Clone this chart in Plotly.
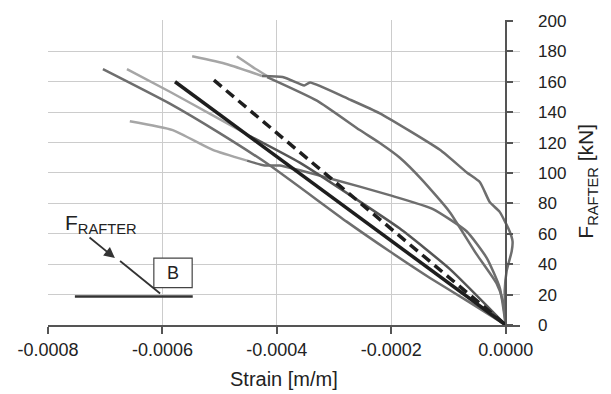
import plotly.graph_objects as go

# ---- data (strain [m/m], force [kN]) ----
x_ticks = [-0.0008, -0.0006, -0.0004, -0.0002, 0.0]
x_ticklabels = ["-0.0008", "-0.0006", "-0.0004", "-0.0002", "0.0000"]
y_ticks = [0, 20, 40, 60, 80, 100, 120, 140, 160, 180, 200]

black_x = [-0.000578, 0.0]
black_y = [160, 0]

dashed_x = [-0.00051, 0.0]
dashed_y = [161, 0]

lowA_x = [-0.000704, -0.000587, -0.0005, -0.000412, -0.000278, -0.000203, -0.000133, -0.000063, 0.0]
lowA_y = [168.3, 145.6, 126.2, 104.9, 68.0, 48.5, 31.1, 14.9, 0]

c4_light_x = [-0.000662, -0.000587, -0.000512, -0.000447]
c4_light_y = [168.3, 153.4, 137.9, 124.3]
c4_dark_x = [-0.000447, -0.00036, -0.000272, -0.000185, -0.000098, 0.0]
c4_dark_y = [124.3, 106.8, 85.4, 63.4, 36.9, 0]

mid_light_x = [-0.000657, -0.000582, -0.000512, -0.000452]
mid_light_y = [134.0, 128.2, 115.2, 108.1]
mid_dark_x = [-0.000452, -0.000421, -0.000395, -0.000307, -0.000203, -0.000128,
              -0.000068, -0.000033, -0.0000105, 0.0]
mid_dark_y = [108.1, 104.9, 104.9, 96.4, 85.4, 76.4, 61.5, 44.0, 24.6, 0]

top1_light_x = [-0.000548, -0.000487, -0.000426]
top1_light_y = [176.7, 171.5, 163.8]
top1_dark_x = [-0.000426, -0.00039, -0.00036, -0.000352, -0.000342, -0.000272, -0.00022,
               -0.000115, -0.000068, -0.000045, -0.000028, -0.0000105, 0.000007,
               0.000012, 0.0000105, 0.0000017, -0.0000017, 0.0]
top1_dark_y = [163.8, 163.1, 158.6, 157.5, 159.5, 148.2, 139.2,
               115.2, 100.3, 93.9, 80.9, 74.4, 61.5,
               55.0, 48.5, 35.6, 22.7, 0]

top2_light_x = [-0.00047, -0.000442, -0.000417]
top2_light_y = [176.7, 169.6, 163.8]
top2_dark_x = [-0.000417, -0.00033, -0.000255, -0.00022, -0.000185, -0.000147,
               -0.000098, -0.000051, -0.0000157, -0.0000052, 0.0]
top2_dark_y = [163.1, 147.6, 128.2, 119.7, 110.0, 95.8,
               74.4, 46.6, 27.2, 16.2, 0]

DARK = "#6e6e6e"
LIGHT = "#a6a6a6"
TXT = "#222222"
GRID = "#cccccc"
FONT = "Liberation Sans, Arial, sans-serif"

fig = go.Figure()

def add(xs, ys, color, width, dash=None, smooth=True):
    fig.add_trace(go.Scatter(x=xs, y=ys, mode="lines",
                             line=dict(color=color, width=width, dash=dash,
                                       shape="spline" if smooth else "linear",
                                       smoothing=0.5),
                             showlegend=False, hoverinfo="skip"))

add(top1_light_x, top1_light_y, LIGHT, 2.5)
add(top2_light_x, top2_light_y, LIGHT, 2.5)
add(c4_light_x, c4_light_y, LIGHT, 2.5)
add(mid_light_x, mid_light_y, LIGHT, 2.5)
add(top1_dark_x, top1_dark_y, DARK, 2.5)
add(top2_dark_x, top2_dark_y, DARK, 2.5)
add(mid_dark_x, mid_dark_y, DARK, 2.5)
add(lowA_x, lowA_y, DARK, 2.5)
add(c4_dark_x, c4_dark_y, "#555555", 2.5)
add(black_x, black_y, "#1e1e1e", 3.5, smooth=False)
add(dashed_x, dashed_y, "#1e1e1e", 3.5, dash="10px,6px", smooth=False)

x_min, x_max = -0.0008, 0.000025
y_pos = (0 - x_min) / (x_max - x_min)

fig.update_layout(
    width=611, height=394,
    margin=dict(l=48, r=91, t=15, b=69),
    paper_bgcolor="white", plot_bgcolor="white",
    font=dict(family=FONT, color=TXT),
    xaxis=dict(range=[x_min, x_max], tickvals=x_ticks, ticktext=x_ticklabels,
               showgrid=True, gridcolor=GRID, gridwidth=1,
               zeroline=False, showline=True, linecolor="#555555", linewidth=2,
               ticks="outside", ticklen=7, tickwidth=2, tickcolor="#555555",
               ticklabeloverflow="allow",
               tickfont=dict(size=18, color=TXT, family=FONT)),
    yaxis=dict(range=[0, 200.6], tickvals=y_ticks, side="right",
               anchor="free", position=y_pos,
               showgrid=True, gridcolor=GRID, gridwidth=1,
               zeroline=False, showline=True, linecolor="#555555", linewidth=2,
               ticks="outside", ticklen=6, tickwidth=2, tickcolor="#555555",
               ticklabelstandoff=22, ticklabeloverflow="allow",
               tickfont=dict(size=17, color=TXT, family=FONT)),
)

# axis titles
fig.add_annotation(text="Strain [m/m]", xref="paper", yref="paper",
                   x=0.5, y=-0.178, xanchor="center", yanchor="middle",
                   showarrow=False, font=dict(size=20, color=TXT, family=FONT))
fig.add_annotation(text="F<sub>RAFTER</sub> [kN]", xref="paper", yref="paper",
                   x=1.142, y=0.47, xanchor="center", yanchor="middle",
                   textangle=-90, showarrow=False,
                   font=dict(size=21, color=TXT, family=FONT))

# inset sketch
fig.add_shape(type="line", x0=-0.000753, x1=-0.000547, y0=18.8, y1=18.8,
              line=dict(color="#333333", width=2.5))
fig.add_shape(type="rect", x0=-0.000615, x1=-0.000548, y0=24.6, y1=44.0,
              line=dict(color="#444444", width=1.2), fillcolor="white")
fig.add_annotation(text="B", x=-0.0005815, y=34.3, showarrow=False,
                   font=dict(size=18, color=TXT, family=FONT))
fig.add_shape(type="line", x0=-0.000674, y0=42.1, x1=-0.000604, y1=20.7,
              line=dict(color="#333333", width=1.8))
fig.add_annotation(text="", x=-0.000683, y=44.0, ax=-0.00073, ay=58.3,
                   xref="x", yref="y", axref="x", ayref="y",
                   showarrow=True, arrowhead=2, arrowsize=1.2, arrowwidth=1.8,
                   arrowcolor="#333333")
fig.add_annotation(text="F<sub>RAFTER</sub>", x=-0.000773, y=66.5,
                   xanchor="left", yanchor="middle", showarrow=False,
                   font=dict(size=21, color=TXT, family=FONT))

fig.write_html("out.html", config={"displayModeBar": False},
               post_script="document.body.style.margin='0';document.body.style.overflow='hidden';")
